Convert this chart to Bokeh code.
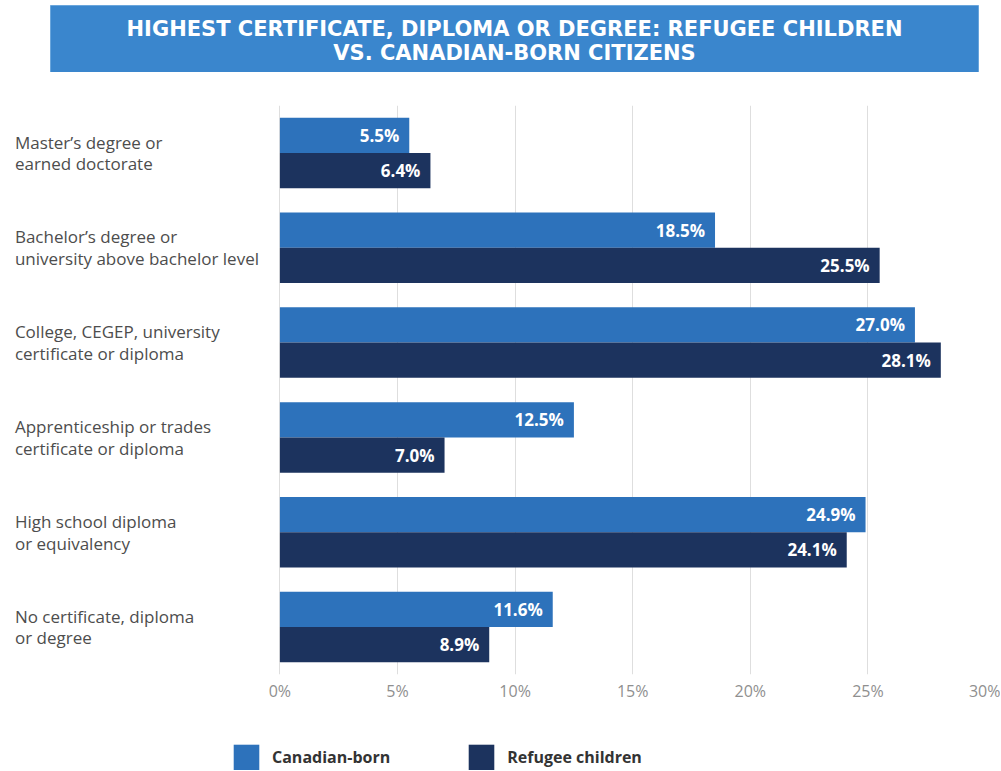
from bokeh.plotting import figure
from bokeh.layouts import column
from bokeh.models import (ColumnDataSource, Range1d, FactorRange, FixedTicker,
                          PrintfTickFormatter, Legend, LegendItem)
from bokeh.transform import dodge
from bokeh.core.properties import value
from bokeh.embed import file_html
from bokeh.resources import INLINE

title_text = "HIGHEST CERTIFICATE, DIPLOMA OR DEGREE: REFUGEE CHILDREN\nVS. CANADIAN-BORN CITIZENS"

categories = [
    "Master\u2019s degree or\nearned doctorate",
    "Bachelor\u2019s degree or\nuniversity above bachelor level",
    "College, CEGEP, university\ncertificate or diploma",
    "Apprenticeship or trades\ncertificate or diploma",
    "High school diploma\nor equivalency",
    "No certificate, diploma\nor degree",
]
canadian_born = [5.5, 18.5, 27.0, 12.5, 24.9, 11.6]
refugee_children = [6.4, 25.5, 28.1, 7.0, 24.1, 8.9]
series_names = ["Canadian-born", "Refugee children"]
x_ticks = [0, 5, 10, 15, 20, 25, 30]

C_CAN = "#2d72bb"
C_REF = "#1c335e"
C_BANNER = "#3a86cd"
FONT = "Open Sans"

src = ColumnDataSource(dict(
    cat=categories,
    can=canadian_born,
    ref=refugee_children,
    can_lbl=[f"{v:.1f}%" for v in canadian_born],
    ref_lbl=[f"{v:.1f}%" for v in refugee_children],
))

W = 1000
BORDER_R = 15
bh = 0.372


def bare(fig):
    fig.axis.visible = False
    fig.grid.visible = False
    fig.outline_line_color = None
    fig.background_fill_color = "white"
    fig.border_fill_color = "white"


# ---- banner ----
banner = figure(width=W, height=72, x_range=Range1d(0, W - BORDER_R),
                y_range=Range1d(72, 0),
                output_backend="svg", toolbar_location=None,
                min_border_left=0, min_border_right=BORDER_R,
                min_border_top=0, min_border_bottom=0)
bare(banner)
banner.quad(left=[50], right=[978], top=[5], bottom=[72],
            fill_color=C_BANNER, line_color="#6aa6dc", line_width=1)
banner.text(x=[514], y=[40], text=[title_text], text_align="center",
            text_baseline="middle", text_color="white",
            text_font=value("DejaVu Sans"), text_font_style="bold",
            text_font_size="21px", text_line_height=1.0)

# ---- main chart ----
p = figure(width=W, height=643, output_backend="svg", toolbar_location=None,
           x_range=Range1d(-11.88, 30),
           y_range=FactorRange(factors=list(reversed(categories))),
           min_border_left=0, min_border_right=BORDER_R,
           min_border_top=33, min_border_bottom=41)
p.outline_line_color = None
p.background_fill_color = "white"
p.border_fill_color = "white"
p.yaxis.visible = False
p.ygrid.visible = False

p.xgrid.ticker = FixedTicker(ticks=x_ticks)
p.xgrid.grid_line_color = "#dedede"
p.xgrid.grid_line_width = 1
p.xaxis.ticker = FixedTicker(ticks=x_ticks)
p.xaxis.formatter = PrintfTickFormatter(format="%d%%")
p.xaxis.axis_line_color = None
p.xaxis.major_tick_line_color = None
p.xaxis.minor_tick_line_color = None
p.xaxis.major_tick_out = 0
p.xaxis.major_tick_in = 0
p.xaxis.major_label_standoff = 5
p.xaxis.major_label_text_font = FONT
p.xaxis.major_label_text_font_size = "16px"
p.xaxis.major_label_text_color = "#8f8f8f"

p.hbar(y=dodge("cat", bh / 2, range=p.y_range), left=0, right="can",
       height=bh, source=src, fill_color=C_CAN, line_color=None)
p.hbar(y=dodge("cat", -bh / 2, range=p.y_range), left=0, right="ref",
       height=bh, source=src, fill_color=C_REF, line_color=None)

p.text(x="can", y=dodge("cat", bh / 2, range=p.y_range), text="can_lbl",
       source=src, x_offset=-10, text_align="right", text_baseline="middle",
       text_color="white", text_font=value(FONT), text_font_style="bold",
       text_font_size="17px")
p.text(x="ref", y=dodge("cat", -bh / 2, range=p.y_range), text="ref_lbl",
       source=src, x_offset=-10, text_align="right", text_baseline="middle",
       text_color="white", text_font=value(FONT), text_font_style="bold",
       text_font_size="17px")

# category labels
p.text(x=0, y="cat", text="cat", source=src, x_offset=-265,
       text_align="left", text_baseline="middle", text_color="#4d4d4d",
       text_font=value(FONT), text_font_size="17px", text_line_height=0.94)

# ---- legend strip (same series as zero-height bars, used only as legend keys) ----
lg = figure(width=W, height=55, output_backend="svg", toolbar_location=None,
            x_range=Range1d(-11.88, 30),
            y_range=FactorRange(factors=list(reversed(categories))),
            min_border_left=0, min_border_right=BORDER_R,
            min_border_top=0, min_border_bottom=0)
bare(lg)
l1 = lg.hbar(y="cat", left=0, right="can", height=0, source=src,
             fill_color=C_CAN, line_color=None)
l2 = lg.hbar(y="cat", left=0, right="ref", height=0, source=src,
             fill_color=C_REF, line_color=None)
legend = Legend(items=[LegendItem(label=series_names[0], renderers=[l1]),
                       LegendItem(label=series_names[1], renderers=[l2])],
                location=(230, -3), orientation="horizontal",
                padding=0, margin=0, spacing=75, label_standoff=10,
                glyph_width=32, glyph_height=32,
                border_line_color=None, background_fill_alpha=0,
                label_text_font=FONT, label_text_font_size="16px",
                label_text_font_style="bold", label_text_color="#333333")
lg.add_layout(legend)

layout = column(banner, p, lg, spacing=0)
open("out.html", "w").write(file_html(layout, INLINE))
